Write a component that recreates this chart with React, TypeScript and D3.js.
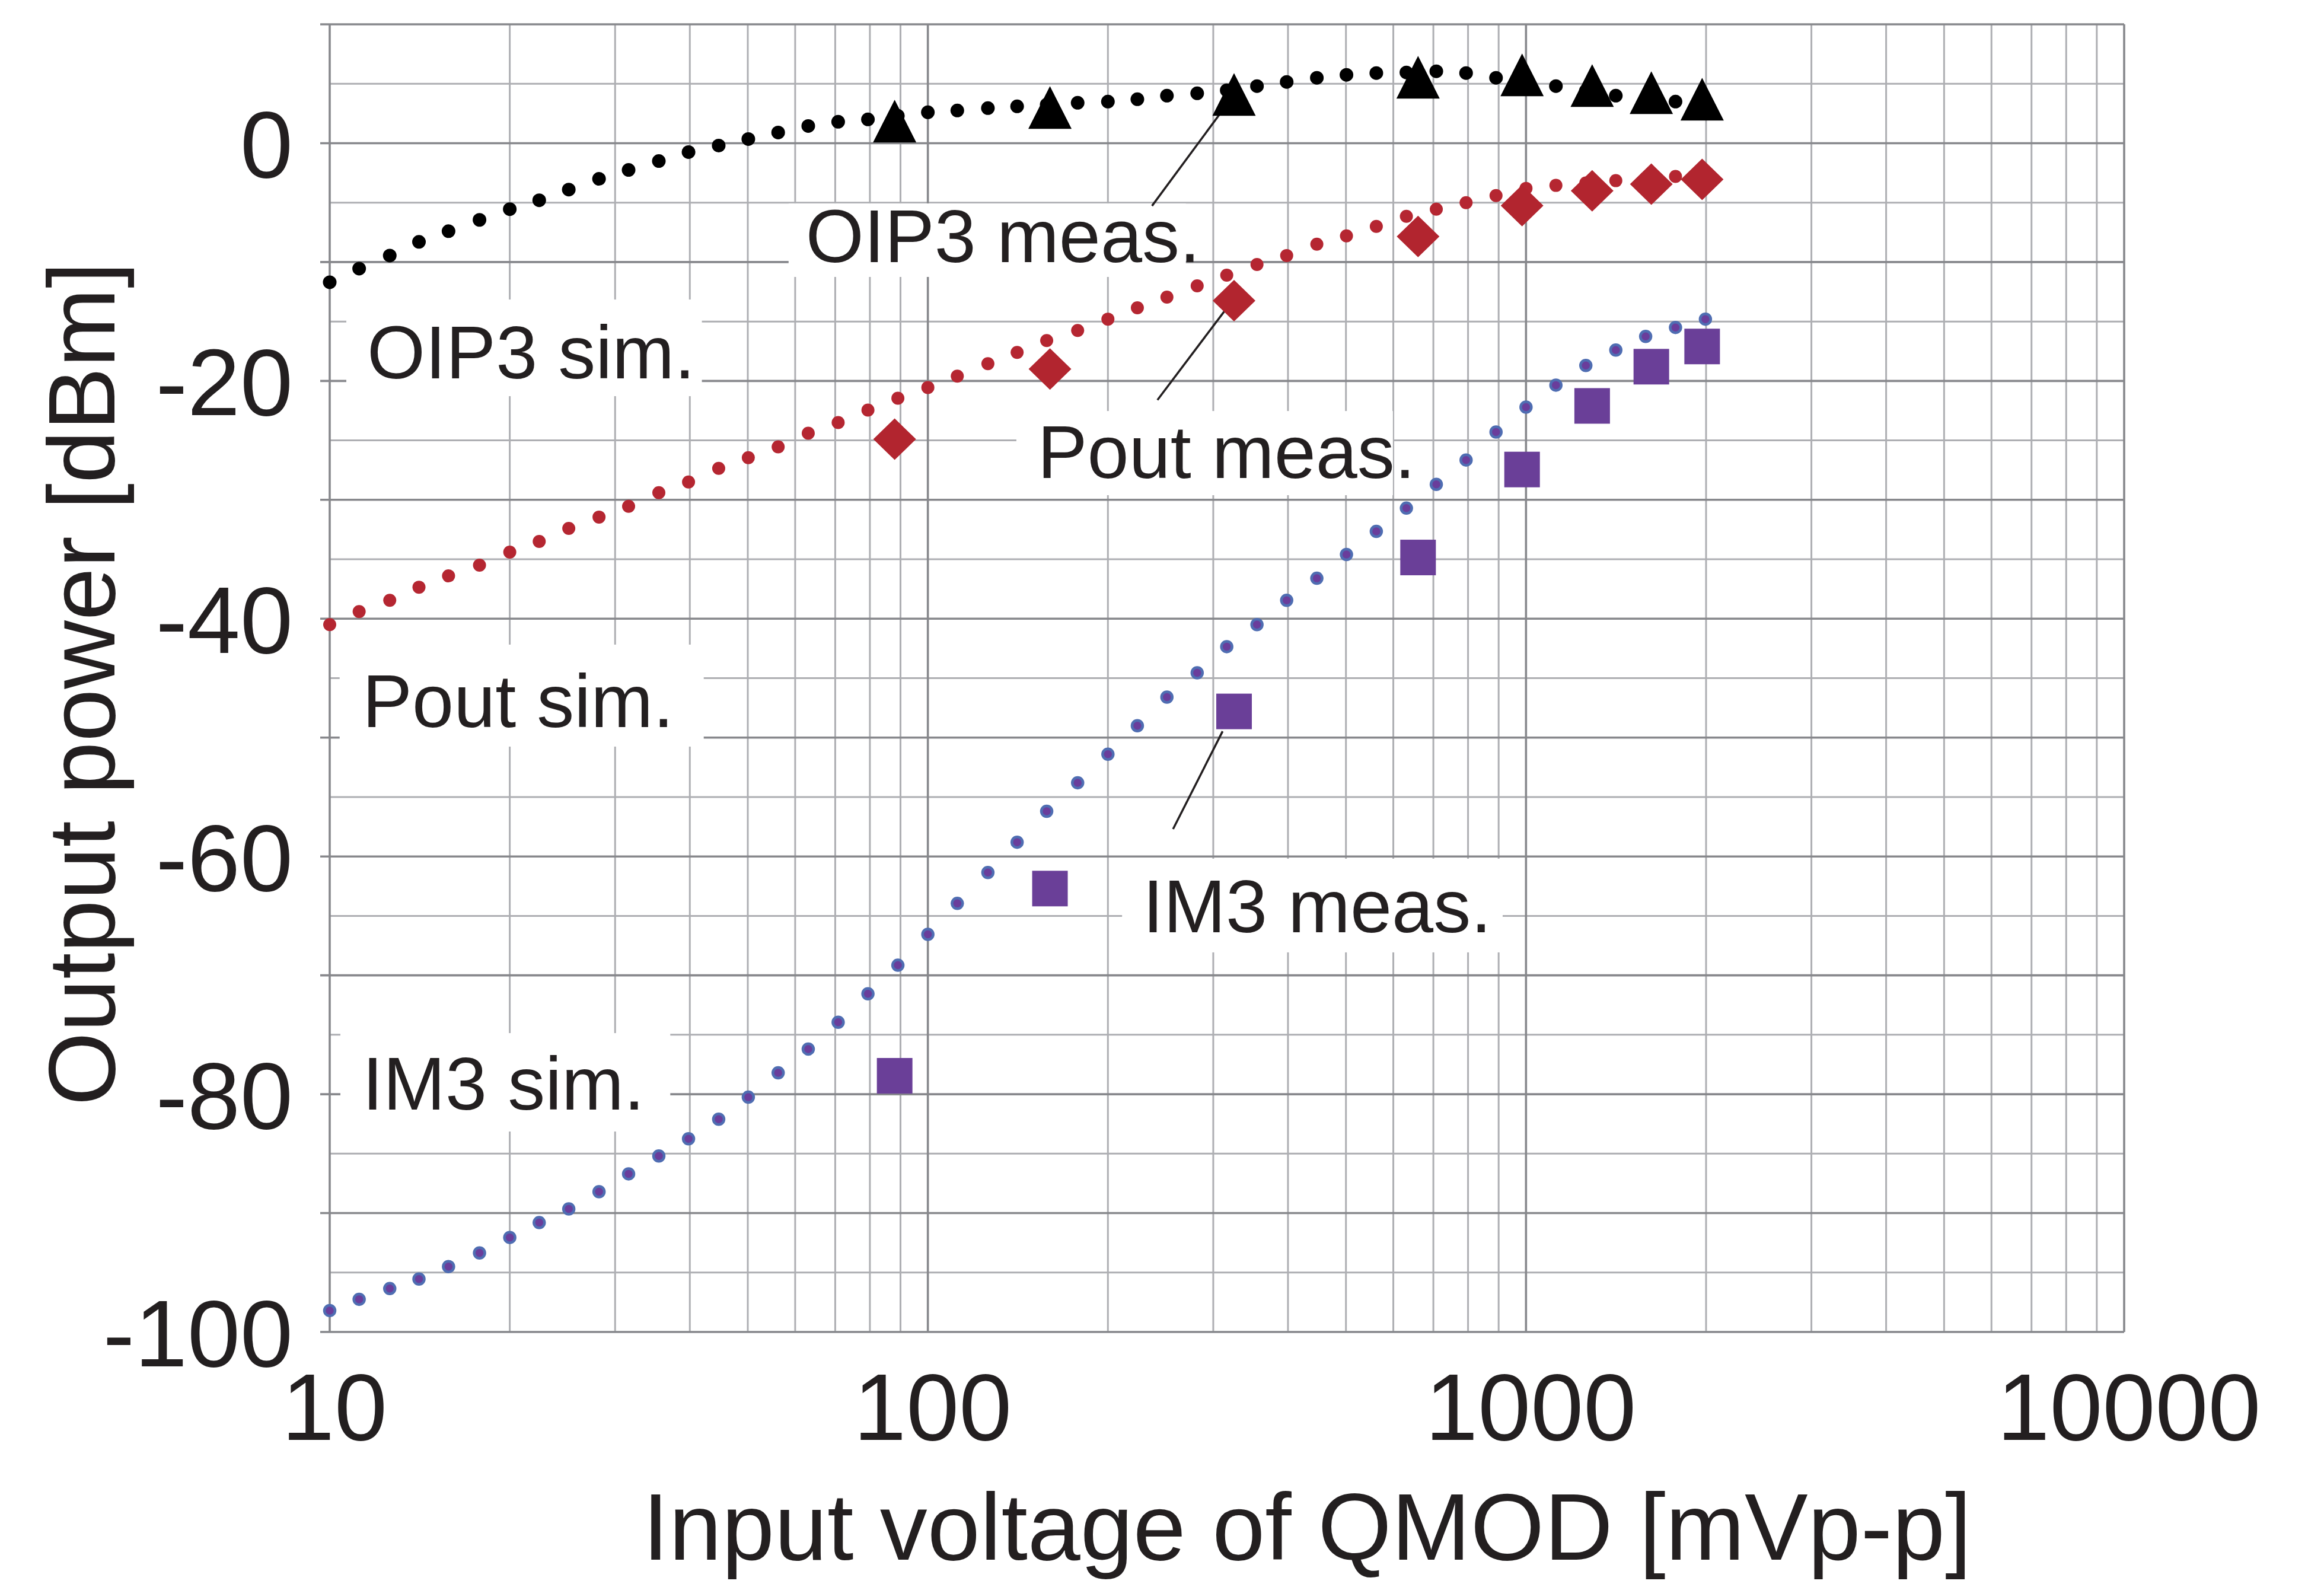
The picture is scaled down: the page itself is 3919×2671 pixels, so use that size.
import React from 'react';
import * as d3 from 'd3';

// input voltage of the simulated sweep [mVp-p]
const simVoltage = [
  10, 11.2, 12.6, 14.1, 15.8, 17.8, 20, 22.4, 25.1, 28.2,
  31.6, 35.5, 39.8, 44.7, 50.1, 56.2, 63.1, 70.8, 79.4, 89.1,
  100, 112, 126, 141, 158, 178, 200, 224, 251, 282,
  316, 355, 398, 447, 501, 562, 631, 708, 794, 891,
  1000, 1122, 1259, 1413, 1585, 1778, 1995,
];

// simulated output power [dBm]
const oip3Sim = [
  -11.7, -10.55, -9.45, -8.3, -7.4, -6.45, -5.55, -4.8, -3.9, -3.0,
  -2.25, -1.5, -0.75, -0.2, 0.35, 0.9, 1.45, 1.8, 2.0, 2.3,
  2.6, 2.75, 2.95, 3.1, 3.25, 3.4, 3.5, 3.7, 4.0, 4.2,
  4.45, 4.8, 5.15, 5.5, 5.75, 5.9, 5.95, 6.05, 5.9, 5.5,
  5.2, 4.8, 4.4, 4.0, 3.75, 3.5, 3.3,
];
const poutSim = [
  -40.5, -39.4, -38.45, -37.35, -36.4, -35.5, -34.4, -33.5, -32.4, -31.45,
  -30.55, -29.4, -28.5, -27.35, -26.45, -25.55, -24.4, -23.5, -22.45, -21.45,
  -20.55, -19.6, -18.55, -17.6, -16.6, -15.75, -14.8, -13.85, -12.95, -12.0,
  -11.1, -10.2, -9.45, -8.5, -7.8, -7.0, -6.15, -5.55, -5.0, -4.4,
  -3.8, -3.55, -3.35, -3.15, -2.95, -2.8, -2.65,
];
const im3Sim = [
  -98.2, -97.25, -96.35, -95.55, -94.5, -93.35, -92.05, -90.8, -89.65, -88.2,
  -86.7, -85.2, -83.75, -82.1, -80.25, -78.2, -76.2, -73.95, -71.55, -69.15,
  -66.55, -63.95, -61.35, -58.8, -56.2, -53.8, -51.4, -49.0, -46.6, -44.55,
  -42.35, -40.5, -38.45, -36.6, -34.6, -32.65, -30.7, -28.7, -26.65, -24.3,
  -22.2, -20.35, -18.7, -17.4, -16.25, -15.5, -14.8,
];

// measured points
const measVoltage = [88, 160, 325, 660, 985, 1290, 1620, 1970];
const oip3Meas = [1.85, 3.0, 4.1, 5.55, 5.75, 4.85, 4.25, 3.7];
const poutMeas = [-24.9, -19.0, -13.25, -7.85, -5.25, -4.0, -3.45, -3.05];
const im3Meas = [-78.45, -62.7, -47.8, -34.85, -27.45, -22.1, -18.8, -17.1];

const xTickValues = [10, 100, 1000, 10000];
const xTickLabels = ['10', '100', '1000', '10000'];
const yTickValues = [0, -20, -40, -60, -80, -100];
const yTickLabels = ['0', '-20', '-40', '-60', '-80', '-100'];

const labelTexts = ['OIP3 sim.', 'OIP3 meas.', 'Pout sim.', 'Pout meas.', 'IM3 meas.', 'IM3 sim.'];

// label anchors and background boxes, in data units (mVp-p, dBm)
const labelLayout = [
  { tx: 11.55, ty: -19.78, box: [10.66, 41.9, -13.15, -21.28] },
  { tx: 62.5, ty: -10.0, box: [58.5, 270, -5.07, -11.25] },
  { tx: 11.34, ty: -49.12, box: [10.39, 42.2, -42.18, -50.76] },
  { tx: 152.5, ty: -28.16, box: [140.6, 599, -22.53, -29.61] },
  { tx: 228.7, ty: -66.38, box: [211.2, 914, -60.19, -68.07] },
  { tx: 11.34, ty: -81.29, box: [10.42, 37.1, -74.86, -83.14] },
];
const callouts = [
  [[312, 2.87], [237, -5.27]],
  [[313, -14.15], [242, -21.6]],
  [[311, -49.47], [257, -57.7]],
];

const FONT = 'Liberation Sans, Arial, Helvetica, sans-serif';
const INK = '#231f20';
const MAJOR = '#87888c';
const MINOR = '#aeafb3';

export default function App() {
  const W = 3919, H = 2671;
  const x = d3.scaleLog().domain([10, 10000]).range([556, 3582]);
  const y = d3.scaleLinear().domain([-100, 10]).range([2246, 41]);
  const [x0, x1] = x.range();
  const [y0, y1] = y.range();

  const isMajorX = (v: number) => Math.abs(Math.log10(v) - Math.round(Math.log10(v))) < 1e-6;
  const xGrid = x.ticks();
  const yGrid = y.ticks(22);

  const tri = 'M0,-36L36.5,36L-36.5,36Z';
  const dia = 'M0,-35L36,0L0,35L-36,0Z';

  return (
    <svg width={W} height={H} style={{ position: 'absolute', left: 0, top: 0, background: '#fff' }}>
      {/* minor grid */}
      <g>
        {xGrid.filter(v => !isMajorX(v)).map((v, i) => (
          <line key={'xm' + i} x1={x(v)} x2={x(v)} y1={y1} y2={y0} stroke={MINOR} strokeWidth={3} />
        ))}
        {yGrid.filter(v => v % 10 !== 0).map((v, i) => (
          <line key={'ym' + i} x1={x0} x2={x1} y1={y(v)} y2={y(v)} stroke={MINOR} strokeWidth={3} />
        ))}
      </g>
      {/* major grid */}
      <g>
        {yGrid.filter(v => v % 10 === 0).map((v, i) => (
          <line key={'yM' + i} x1={x0 - 16} x2={x1} y1={y(v)} y2={y(v)} stroke={MAJOR} strokeWidth={3.6} />
        ))}
        {xGrid.filter(isMajorX).map((v, i) => (
          <line key={'xM' + i} x1={x(v)} x2={x(v)} y1={y1} y2={y0} stroke={MAJOR} strokeWidth={3.6} />
        ))}
      </g>
      {/* label backgrounds */}
      <g>
        {labelLayout.map((l, i) => (
          <rect key={'b' + i} x={x(l.box[0])} y={y(l.box[2])}
            width={x(l.box[1]) - x(l.box[0])} height={y(l.box[3]) - y(l.box[2])} fill="#fff" />
        ))}
      </g>
      {/* callout lines */}
      <g>
        {callouts.map((c, i) => (
          <line key={'c' + i} x1={x(c[0][0])} y1={y(c[0][1])} x2={x(c[1][0])} y2={y(c[1][1])}
            stroke={INK} strokeWidth={3.5} />
        ))}
      </g>
      {/* simulated dots */}
      <g>
        {simVoltage.map((v, i) => (
          <circle key={'o' + i} cx={x(v)} cy={y(oip3Sim[i])} r={11.5} fill="#000" />
        ))}
        {simVoltage.map((v, i) => (
          <circle key={'p' + i} cx={x(v)} cy={y(poutSim[i])} r={11} fill="#b52631" />
        ))}
        {simVoltage.map((v, i) => (
          <circle key={'m' + i} cx={x(v)} cy={y(im3Sim[i])} r={9} fill="#6a3d9b"
            stroke="#4f6db2" strokeWidth={4.5} />
        ))}
      </g>
      {/* measured markers */}
      <g>
        {measVoltage.map((v, i) => (
          <path key={'to' + i} d={tri} transform={`translate(${x(v)},${y(oip3Meas[i])})`} fill="#000" />
        ))}
        {measVoltage.map((v, i) => (
          <path key={'dp' + i} d={dia} transform={`translate(${x(v)},${y(poutMeas[i])})`} fill="#b2252f" />
        ))}
        {measVoltage.map((v, i) => (
          <rect key={'sm' + i} x={x(v) - 30} y={y(im3Meas[i]) - 30} width={60} height={60} fill="#6a3f98" />
        ))}
      </g>
      {/* annotation texts */}
      <g fontFamily={FONT} fontSize={126} fill={INK}>
        {labelLayout.map((l, i) => (
          <text key={'t' + i} x={x(l.tx)} y={y(l.ty)}>{labelTexts[i]}</text>
        ))}
      </g>
      {/* axes labels */}
      <g fontFamily={FONT} fontSize={160} fill={INK}>
        {yTickValues.map((v, i) => (
          <text key={'yl' + i} x={x0 - 62} y={y(v) + 58} textAnchor="end">{yTickLabels[i]}</text>
        ))}
        {xTickValues.map((v, i) => (
          <text key={'xl' + i} x={x(v) + 8} y={2428} textAnchor="middle">{xTickLabels[i]}</text>
        ))}
        <text x={2204} y={2630} textAnchor="middle">Input voltage of QMOD [mVp-p]</text>
        <text transform="translate(193,1153) rotate(-90)" textAnchor="middle">Output power [dBm]</text>
      </g>
    </svg>
  );
}
